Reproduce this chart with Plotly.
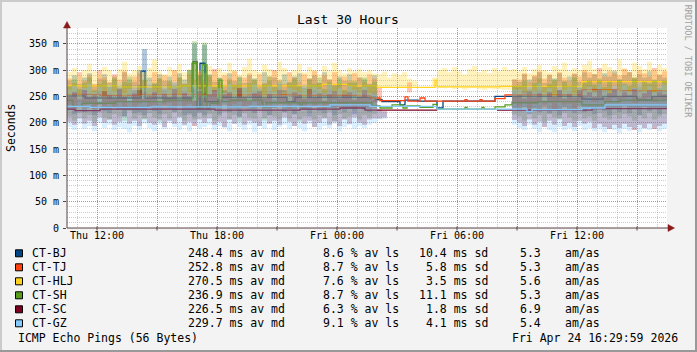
import plotly.graph_objects as go
from datetime import datetime, timedelta

# ---------------- data ----------------
START = datetime(2026, 4, 23, 10, 30)
END = datetime(2026, 4, 24, 16, 30)
BIN_MIN = 15  # smoke bins (minutes)

targets = ["CT-BJ", "CT-TJ", "CT-HLJ", "CT-SH", "CT-SC", "CT-GZ"]
colors = ["#004586", "#ff420e", "#ffd320", "#579d1c", "#7e0021", "#83caff"]
smoke_rgb = [(0, 69, 134), (255, 66, 14), (255, 211, 32), (87, 157, 28), (126, 0, 33), (131, 202, 255)]

med_avg = [248.4, 252.8, 270.5, 236.9, 226.5, 229.7]
loss_avg = [8.6, 8.7, 7.6, 8.7, 6.3, 9.1]
sd_avg = [10.4, 5.8, 3.5, 11.1, 1.8, 4.1]
amas = [5.3, 5.3, 5.6, 5.3, 6.9, 5.4]

N = None
# median step lines: minutes after START, value in ms
bj_t = [0, 54, 222, 234, 378, 390, 399, 414, 453, 660, 684, 924, 945, 999, 1014, 1053, 1110, 1128, 1284, 1545, 1608, 1710, 1755, 1800]
bj_v = [251, 247, 298, 247, 316, 228, 313, 240, 248, 240, 248, 244, 240, 234, 243, 241, 228, 241, 250, 245, 250, 243, 250, 250]
tj_t = [0, 99, 219, 399, 699, 879, 909, 939, 1014, 1023, 1059, 1074, 1194, 1200, 1239, 1245, 1284, 1314, 1545, 1659, 1800]
tj_v = [254, 252, 254, 253, 252, 251, 247, 242, 249, 241, 247, 241, 244, 241, 244, 241, 246, 253, 263, 261, 262]
hlj_t = [0, 159, 339, 765, 843, 930, 1104, 1110, 1299, 1545, 1800]
hlj_v = [270, 268, 270, 273, 270, 267, 281, 268, 269, 278, 278]
sh_t = [0, 18, 45, 144, 294, 375, 390, 405, 420, 429, 456, 465, 489, 585, 588, 597, 699, 705, 915, 939, 975, 1008, 1020, 1059, 1098, 1110, 1194, 1200, 1245, 1251, 1284, 1314, 1335, 1413, 1545, 1614, 1659, 1800]
sh_v = [243, 231, 237, 240, 243, 313, 228, 310, 228, 237, 281, 240, 243, 238, 230, 238, 230, 238, 232, 228, 234, 228, 232, 229, 235, 226, 229, 226, 229, 226, 230, 234, 238, 240, 234, 240, 243, 243]
sc_t = [0, 24, 99, 444, 699, 819, 894, 1110, 1119, 1290, 1575, 1800]
sc_v = [226, 223, 226, 224, 226, 228, 224, 224, N, 224, 227, 227]
gz_t = [0, 69, 249, 549, 789, 909, 1110, 1380, 1395, 1545, 1614, 1800]
gz_v = [231, 229, 230, 231, 234, 231, 226, 221, 225, 228, 234, 234]

# smoke: per 15-minute bin, low / high of ping spread (ms)
# segment a: Thu 10:30 - Fri 02:00 (62 bins), b: Fri 02:00 - 09:00 (28 bins), c: Fri 09:00 - 16:30 (30 bins)
hlj_hi_a = [296, 304, 290, 300, 312, 298, 292, 306, 300, 288, 302, 316, 294, 300, 308, 296, 304, 320, 298, 292,
            306, 300, 312, 296, 302, 318, 300, 294, 308, 298, 304, 296, 314, 300, 292, 306, 322, 300, 296, 310,
            302, 298, 316, 304, 294, 300, 312, 296, 306, 300, 292, 308, 298, 314, 300, 294, 304, 298, 302, 296,
            300, 294]
hlj_lo_a = [252, 258, 248, 262, 255, 250, 260, 246, 257, 253, 263, 249, 256, 261, 251, 258, 247, 259, 254, 262,
            250, 256, 248, 260, 253, 264, 249, 257, 252, 259, 246, 261, 255, 250, 263, 248, 256, 259, 252, 247,
            260, 254, 249, 262, 257, 251, 258, 246, 255, 261, 250, 257, 263, 248, 254, 259, 252, 260, 249, 256,
            253, 258]
hlj_hi_b = [292, 297, 286, 294, 290, 296, 284, 280, N, N, N, 286, 300, 304, 296, 306, 298, 292, 302, 308,
            296, 300, 294, 304, 298, 306, 300, 302]
hlj_lo_b = [268, 269, 268, 270, 267, 268, 269, 270, N, N, N, 270, 266, 265, 267, 264, 266, 263, 265, 266,
            264, 262, 265, 263, 264, 262, 263, 260]
hlj_hi_c = [298, 306, 294, 302, 310, 300, 296, 308, 302, 314, 298, 304, 300, 310, 318, 302, 296, 312, 306, 300,
            320, 304, 298, 314, 308, 302, 316, 300, 310, 304]
hlj_lo_c = [254, 260, 250, 258, 262, 252, 257, 249, 261, 255, 259, 251, 258, 264, 258, 266, 260, 262, 256, 265,
            259, 263, 257, 266, 261, 258, 264, 259, 262, 260]

tj_hi_a = [284, 276, 296, 280, 290, 274, 300, 286, 278, 292, 282, 298, 276, 288, 294, 280, 272, 296, 284, 290,
           278, 300, 286, 274, 292, 282, 296, 278, 288, 302, 276, 290, 284, 298, 274, 286, 294, 280, 292, 276,
           288, 300, 282, 274, 296, 286, 278, 292, 284, 298, 276, 290, 282, 296, 274, 288, 280, 294, 286, 278,
           292, 284]
tj_lo_a = [234, 228, 242, 230, 238, 226, 244, 232, 236, 228, 240, 230, 246, 226, 236, 242, 228, 234, 240, 224,
           238, 232, 244, 228, 236, 230, 242, 226, 238, 234, 230, 244, 228, 236, 240, 226, 234, 242, 230, 238,
           228, 244, 232, 236, 226, 240, 234, 228, 242, 230, 238, 226, 236, 244, 230, 234, 240, 228, 236, 232,
           242, 238]
tj_hi_b = [268, N, N, N, N, N, 277, N, N, N, N, N, N, N, N, N, N, N, N, N,
           N, N, N, N, N, N, N, 282]
tj_lo_b = [242, N, N, N, N, N, 258, N, N, N, N, N, N, N, N, N, N, N, N, N,
           N, N, N, N, N, N, N, 240]
tj_hi_c = [282, 294, 278, 290, 298, 284, 292, 280, 296, 286, 280, 294, 288, 300, 296, 292, 304, 288, 298, 294,
           290, 302, 296, 286, 300, 294, 288, 304, 292, 298]
tj_lo_c = [232, 240, 228, 236, 242, 230, 238, 226, 240, 234, 236, 228, 238, 244, 250, 240, 246, 242, 238, 248,
           240, 246, 250, 238, 244, 242, 248, 240, 246, 244]

bj_hi_a = [280, 290, 274, 286, 294, 272, 284, 292, 276, 288, 270, 296, 282, 278, 300, 340, 286, 274, 292, 280,
           288, 276, 294, 282, 300, 350, 290, 348, 292, 278, 286, 272, 294, 280, 288, 276, 290, 284, 272, 296,
           280, 286, 274, 292, 278, 288, 294, 272, 284, 290, 276, 296, 282, 274, 288, 280, 292, 276, 286, 282,
           274, 290]
bj_lo_a = [224, 216, 232, 220, 228, 214, 234, 222, 218, 230, 226, 212, 224, 218, 220, 214, 230, 222, 216, 234,
           226, 220, 232, 214, 218, 212, 220, 214, 222, 228, 216, 234, 220, 226, 212, 230, 224, 218, 232, 222,
           214, 228, 236, 220, 226, 216, 230, 224, 212, 232, 222, 218, 228, 214, 234, 220, 226, 216, 230, 224,
           220, 228]
bj_hi_b = [N, N, N, N, N, N, N, N, N, N, N, N, N, N, N, N, N, N, N, N,
           N, N, N, N, N, N, N, 282]
bj_lo_b = [N, N, N, N, N, N, N, N, N, N, N, N, N, N, N, N, N, N, N, N,
           N, N, N, N, N, N, N, 228]
bj_hi_c = [278, 292, 282, 288, 296, 276, 290, 284, 294, 280, 288, 292, 278, 296, 286, 292, 280, 294, 288, 298,
           282, 290, 296, 284, 292, 286, 298, 280, 290, 286]
bj_lo_c = [222, 230, 216, 228, 220, 234, 218, 226, 214, 230, 224, 218, 232, 220, 228, 216, 230, 222, 214, 228,
           220, 232, 218, 226, 214, 230, 222, 228, 216, 226]

sh_hi_a = [270, 282, 264, 276, 286, 262, 274, 280, 268, 284, 266, 278, 288, 262, 272, 282, 266, 276, 284, 264,
           280, 270, 286, 274, 300, 355, 290, 352, 290, 268, 285, 262, 280, 272, 286, 266, 276, 282, 264, 274,
           288, 268, 280, 262, 276, 284, 270, 266, 282, 274, 286, 264, 278, 270, 284, 262, 276, 280, 268, 286,
           272, 278]
sh_lo_a = [212, 204, 218, 208, 214, 202, 220, 210, 206, 216, 212, 204, 222, 208, 214, 206, 218, 210, 202, 216,
           208, 220, 212, 204, 214, 206, 218, 210, 216, 204, 212, 220, 206, 214, 202, 218, 210, 208, 222, 204,
           214, 212, 206, 220, 208, 216, 202, 212, 218, 206, 214, 210, 220, 204, 216, 208, 212, 222, 206, 214,
           210, 216]
sh_hi_b = [N, N, N, N, N, N, N, N, N, N, N, N, N, N, N, N, N, N, N, N,
           N, N, N, N, N, N, N, 270]
sh_lo_b = [N, N, N, N, N, N, N, N, N, N, N, N, N, N, N, N, N, N, N, N,
           N, N, N, N, N, N, N, 215]
sh_hi_c = [270, 280, 264, 276, 284, 268, 274, 282, 262, 278, 270, 286, 266, 276, 280, 272, 284, 268, 278, 264,
           282, 274, 270, 286, 268, 278, 274, 282, 266, 280]
sh_lo_c = [212, 204, 218, 208, 214, 202, 216, 210, 206, 218, 210, 204, 216, 208, 212, 204, 218, 210, 206, 214,
           208, 216, 212, 204, 214, 208, 218, 206, 212, 216]

sc_hi_a = [250, 258, 244, 262, 248, 254, 240, 260, 252, 246, 264, 250, 242, 256, 262, 246, 252, 258, 240, 254,
           248, 264, 244, 256, 250, 242, 260, 248, 254, 262, 244, 252, 258, 246, 266, 250, 242, 256, 260, 248,
           254, 244, 262, 250, 240, 258, 252, 246, 264, 248, 256, 242, 254, 260, 246, 252, 258, 244, 250, 262,
           248, 244]
sc_lo_a = [202, 196, 208, 198, 204, 194, 210, 200, 206, 196, 202, 212, 198, 204, 194, 208, 200, 196, 206, 192,
           204, 198, 210, 196, 202, 194, 206, 200, 208, 196, 202, 192, 206, 198, 210, 196, 204, 200, 194, 208,
           198, 204, 196, 210, 202, 194, 206, 198, 204, 192, 200, 208, 196, 202, 194, 206, 198, 210, 200, 196,
           206, 208]
sc_hi_b = [225, 222, N, N, N, N, N, N, N, N, N, N, N, N, N, N, N, N, N, N,
           N, N, N, N, N, N, N, 250]
sc_lo_b = [208, 210, N, N, N, N, N, N, N, N, N, N, N, N, N, N, N, N, N, N,
           N, N, N, N, N, N, N, 205]
sc_hi_c = [252, 246, 260, 248, 256, 242, 258, 250, 262, 246, 254, 248, 262, 252, 258, 250, 264, 248, 256, 262,
           250, 258, 252, 264, 248, 256, 260, 250, 258, 254]
sc_lo_c = [200, 194, 206, 196, 202, 192, 204, 196, 208, 194, 200, 192, 204, 198, 202, 190, 198, 192, 188, 196,
           190, 198, 192, 186, 196, 190, 198, 188, 194, 198]

gz_hi_a = [262, 270, 254, 266, 274, 258, 268, 252, 272, 260, 276, 256, 264, 270, 252, 266, 274, 260, 256, 270,
           262, 278, 254, 268, 258, 272, 264, 252, 270, 260, 266, 256, 274, 262, 250, 268, 258, 272, 264, 254,
           270, 260, 276, 252, 266, 262, 258, 272, 254, 268, 264, 256, 274, 260, 266, 252, 270, 262, 258, 268,
           256, 254]
gz_lo_a = [192, 186, 198, 188, 194, 184, 200, 190, 196, 186, 192, 188, 182, 194, 186, 198, 190, 184, 196, 188,
           200, 192, 186, 194, 184, 198, 188, 192, 196, 186, 194, 190, 184, 198, 192, 186, 196, 182, 194, 188,
           200, 186, 192, 196, 188, 194, 190, 184, 198, 192, 186, 194, 190, 198, 184, 192, 196, 188, 194, 190,
           196, 200]
gz_hi_b = [222, 220, N, N, N, N, N, N, N, N, N, N, N, N, N, N, N, N, N, N,
           N, N, N, N, N, N, N, 262]
gz_lo_b = [206, 207, N, N, N, N, N, N, N, N, N, N, N, N, N, N, N, N, N, N,
           N, N, N, N, N, N, N, 196]
gz_hi_c = [264, 256, 270, 260, 274, 258, 266, 252, 270, 262, 268, 256, 272, 264, 268, 258, 274, 262, 256, 270,
           264, 272, 260, 266, 276, 262, 270, 258, 268, 272]
gz_lo_c = [190, 186, 196, 188, 182, 194, 186, 182, 192, 186, 190, 184, 194, 186, 190, 184, 188, 182, 190, 186,
           180, 188, 184, 190, 182, 188, 186, 192, 184, 188]

med_t = [bj_t, tj_t, hlj_t, sh_t, sc_t, gz_t]
med_v = [bj_v, tj_v, hlj_v, sh_v, sc_v, gz_v]
smoke_lo = [bj_lo_a + bj_lo_b + bj_lo_c, tj_lo_a + tj_lo_b + tj_lo_c, hlj_lo_a + hlj_lo_b + hlj_lo_c,
            sh_lo_a + sh_lo_b + sh_lo_c, sc_lo_a + sc_lo_b + sc_lo_c, gz_lo_a + gz_lo_b + gz_lo_c]
smoke_hi = [bj_hi_a + bj_hi_b + bj_hi_c, tj_hi_a + tj_hi_b + tj_hi_c, hlj_hi_a + hlj_hi_b + hlj_hi_c,
            sh_hi_a + sh_hi_b + sh_hi_c, sc_hi_a + sc_hi_b + sc_hi_c, gz_hi_a + gz_hi_b + gz_hi_c]

y_ticks = [0, 50, 100, 150, 200, 250, 300, 350]
y_text = ["0", "50 m", "100 m", "150 m", "200 m", "250 m", "300 m", "350 m"]
x_major = [datetime(2026, 4, 23, 12) + timedelta(hours=3 * k) for k in range(10)]
x_text = ["Thu 12:00", "", "Thu 18:00", "", "Fri 00:00", "", "Fri 06:00", "", "Fri 12:00", ""]
x_minor = [datetime(2026, 4, 23, 11) + timedelta(hours=k) for k in range(30)]


# ---------------- build ----------------
def band_xy(lo, hi):
    xs, ys = [], []
    n = min(len(lo), len(hi))
    i = 0
    while i < n:
        if lo[i] is None or hi[i] is None:
            i += 1
            continue
        j = i
        while j < n and lo[j] is not None and hi[j] is not None:
            j += 1
        tx, ty, bx, by = [], [], [], []
        for k in range(i, j):
            t0 = START + timedelta(minutes=BIN_MIN * k)
            t1 = t0 + timedelta(minutes=BIN_MIN)
            tx += [t0, t1]
            ty += [hi[k], hi[k]]
            bx += [t0, t1]
            by += [lo[k], lo[k]]
        xs += tx + bx[::-1] + [None]
        ys += ty + by[::-1] + [None]
        i = j
    return xs, ys


fig = go.Figure()
for name, col, rgb, lo, hi, mt, mv in zip(targets, colors, smoke_rgb, smoke_lo, smoke_hi, med_t, med_v):
    sx, sy = band_xy(lo, hi)
    fig.add_trace(go.Scatter(x=sx, y=sy, mode="lines", fill="toself",
                             fillcolor="rgba(%d,%d,%d,0.30)" % rgb, line=dict(width=0),
                             hoverinfo="skip", name=name + " smoke"))
    fig.add_trace(go.Scatter(x=[START + timedelta(minutes=m) for m in mt], y=mv,
                             mode="lines", line=dict(color=col, width=1.3, shape="hv"),
                             connectgaps=False, name=name))

# pixel -> paper helpers (plot area: x 67..667, y 28..228)
L, R, T, B = 67, 30, 28, 124
PW, PH = 697 - L - R, 352 - T - B


def fx(px):
    return (px - L) / PW


def fy(py):
    return (T + PH - py) / PH


MONO = "DejaVu Sans Mono"
AXC = "#5a4040"
ARC = "#8b1a1a"

shapes = []
# frame
shapes.append(dict(type="line", xref="paper", yref="paper", x0=fx(0), x1=fx(697), y0=fy(1), y1=fy(1), line=dict(color="#cbcbcb", width=2)))
shapes.append(dict(type="line", xref="paper", yref="paper", x0=fx(1), x1=fx(1), y0=fy(0), y1=fy(352), line=dict(color="#cbcbcb", width=2)))
shapes.append(dict(type="line", xref="paper", yref="paper", x0=fx(696), x1=fx(696), y0=fy(0), y1=fy(352), line=dict(color="#999999", width=2)))
shapes.append(dict(type="line", xref="paper", yref="paper", x0=fx(0), x1=fx(697), y0=fy(351), y1=fy(351), line=dict(color="#999999", width=2)))
# axes + arrows
shapes.append(dict(type="line", xref="paper", yref="paper", x0=0, x1=fx(670), y0=0, y1=0, line=dict(color=AXC, width=1)))
shapes.append(dict(type="line", xref="paper", yref="paper", x0=0, x1=0, y0=0, y1=fy(24), line=dict(color=AXC, width=1)))
shapes.append(dict(type="path", xref="paper", yref="paper",
                   path="M %f %f L %f %f L %f %f Z" % (fx(674.5), fy(228), fx(668), fy(224.5), fx(668), fy(231.5)),
                   fillcolor=ARC, line=dict(color=ARC, width=0.5)))
shapes.append(dict(type="path", xref="paper", yref="paper",
                   path="M %f %f L %f %f L %f %f Z" % (fx(67), fy(21.5), fx(63.5), fy(28), fx(70.5), fy(28)),
                   fillcolor=ARC, line=dict(color=ARC, width=0.5)))
# small x-axis tick marks at 3-hour positions
for tv in x_major:
    shapes.append(dict(type="line", xref="x", yref="paper", x0=tv, x1=tv, y0=fy(226.5), y1=fy(230.5),
                       line=dict(color=AXC, width=1)))

annotations = []


def txt(s, px, py, size=11.5, anchor="left", color="#000000", angle=0):
    annotations.append(dict(text=s, x=fx(px), y=fy(py), xref="paper", yref="paper", showarrow=False,
                            xanchor=anchor, yanchor="middle", textangle=angle,
                            font=dict(family=MONO, size=size, color=color)))


txt("Last 30 Hours", 347.8, 19.3, size=13, anchor="center")
txt("Seconds", 11, 128, size=11.5, anchor="center", angle=-90)
txt("RRDTOOL / TOBI OETIKER", 688.3, 61, size=8.5, anchor="center", color="#a0a0a0", angle=90)

for k, (name, col) in enumerate(zip(targets, colors)):
    yc = 253.3 + 14 * k
    shapes.append(dict(type="rect", xref="paper", yref="paper", x0=fx(15.5), x1=fx(22.5),
                       y0=fy(yc + 3.5), y1=fy(yc - 3.5), fillcolor=col, line=dict(color="#000000", width=1)))
    txt(name, 30, yc)
    txt("%.1f ms av md" % med_avg[k], 186, yc)
    txt("%.1f %% av ls" % loss_avg[k], 320.7, yc)
    txt("%.1f ms sd" % sd_avg[k], 489.5, yc, anchor="right")
    txt("%.1f" % amas[k], 518.3, yc)
    txt("am/as", 563.3, yc)

txt("ICMP Echo Pings (56 Bytes)", 16, 337.7)
txt("Fri Apr 24 16:29:59 2026", 680, 337.7, anchor="right")

GRID = "rgba(143,143,143,0.45)"
MGRID = "rgba(240,0,0,0.35)"
fig.update_layout(
    width=697, height=352, margin=dict(l=L, r=R, t=T, b=B),
    paper_bgcolor="#f3f3f3", plot_bgcolor="#ffffff", showlegend=False,
    shapes=shapes, annotations=annotations,
    xaxis=dict(type="date", range=[START, END], tickmode="array", tickvals=x_major, ticktext=x_text,
               showgrid=True, gridcolor=MGRID, griddash="1px,1px", gridwidth=1,
               ticks="", showline=False, zeroline=False,
               tickfont=dict(family=MONO, size=10, color="#000000"),
               minor=dict(tickmode="array", tickvals=x_minor, showgrid=True, gridcolor=GRID,
                          griddash="1px,1px", ticks="")),
    yaxis=dict(range=[0, 380], tickmode="array", tickvals=y_ticks, ticktext=y_text,
               showgrid=True, gridcolor=MGRID, griddash="1px,1px", gridwidth=1,
               ticks="outside", ticklen=3, tickcolor=AXC, showline=False, zeroline=False,
               ticklabelstandoff=2,
               tickfont=dict(family=MONO, size=10, color="#000000"),
               minor=dict(tickmode="linear", tick0=0, dtick=10, showgrid=True, gridcolor=GRID,
                          griddash="1px,1px", ticks="")),
)

fig.write_html("out.html")
